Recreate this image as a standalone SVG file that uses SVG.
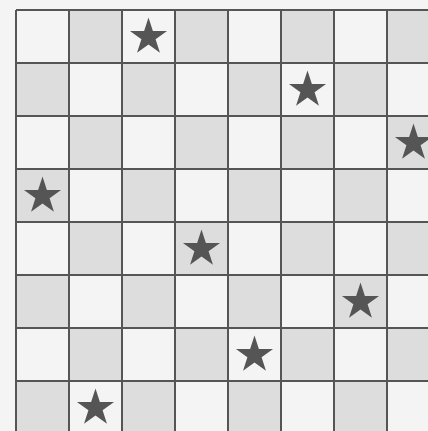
<svg xmlns="http://www.w3.org/2000/svg" xmlns:xlink="http://www.w3.org/1999/xlink" width="428" height="431" viewBox="0 0 428 431">
  <style>
    .bg { fill: #f4f4f4; }
    .dark { fill: #dddddd; }
    .grid { stroke: #555555; stroke-width: 2; fill: none; }
    .star { fill: #555555; }
  </style>
  <defs>
    <polygon id="star" class="star" points="0,-19.5 4.38,-6.03 18.55,-6.03 7.09,2.3 11.46,15.78 0,7.45 -11.46,15.78 -7.09,2.3 -18.55,-6.03 -4.38,-6.03"/>
  </defs>
  <rect class="bg" x="0" y="0" width="428" height="431"/>
  <g id="dark-cells" class="dark">
    <rect x="69" y="10" width="53" height="53"/><rect x="175" y="10" width="53" height="53"/><rect x="281" y="10" width="53" height="53"/><rect x="387" y="10" width="53" height="53"/>
    <rect x="16" y="63" width="53" height="53"/><rect x="122" y="63" width="53" height="53"/><rect x="228" y="63" width="53" height="53"/><rect x="334" y="63" width="53" height="53"/>
    <rect x="69" y="116" width="53" height="53"/><rect x="175" y="116" width="53" height="53"/><rect x="281" y="116" width="53" height="53"/><rect x="387" y="116" width="53" height="53"/>
    <rect x="16" y="169" width="53" height="53"/><rect x="122" y="169" width="53" height="53"/><rect x="228" y="169" width="53" height="53"/><rect x="334" y="169" width="53" height="53"/>
    <rect x="69" y="222" width="53" height="53"/><rect x="175" y="222" width="53" height="53"/><rect x="281" y="222" width="53" height="53"/><rect x="387" y="222" width="53" height="53"/>
    <rect x="16" y="275" width="53" height="53"/><rect x="122" y="275" width="53" height="53"/><rect x="228" y="275" width="53" height="53"/><rect x="334" y="275" width="53" height="53"/>
    <rect x="69" y="328" width="53" height="53"/><rect x="175" y="328" width="53" height="53"/><rect x="281" y="328" width="53" height="53"/><rect x="387" y="328" width="53" height="53"/>
    <rect x="16" y="381" width="53" height="53"/><rect x="122" y="381" width="53" height="53"/><rect x="228" y="381" width="53" height="53"/><rect x="334" y="381" width="53" height="53"/>
  </g>
  <g id="grid-lines" class="grid">
    <path d="M16 10V440M69 10V440M122 10V440M175 10V440M228 10V440M281 10V440M334 10V440M387 10V440"/>
    <path d="M16 10H440M16 63H440M16 116H440M16 169H440M16 222H440M16 275H440M16 328H440M16 381H440"/>
  </g>
  <g id="queen-r0"><use xlink:href="#star" href="#star" x="148.5" y="37"/></g>
  <g id="queen-r1"><use xlink:href="#star" href="#star" x="307.5" y="90"/></g>
  <g id="queen-r2"><use xlink:href="#star" href="#star" x="413.5" y="143"/></g>
  <g id="queen-r3"><use xlink:href="#star" href="#star" x="42.5" y="196"/></g>
  <g id="queen-r4"><use xlink:href="#star" href="#star" x="201.5" y="249"/></g>
  <g id="queen-r5"><use xlink:href="#star" href="#star" x="360.5" y="302"/></g>
  <g id="queen-r6"><use xlink:href="#star" href="#star" x="254.5" y="355"/></g>
  <g id="queen-r7"><use xlink:href="#star" href="#star" x="95.5" y="408"/></g>
</svg>
